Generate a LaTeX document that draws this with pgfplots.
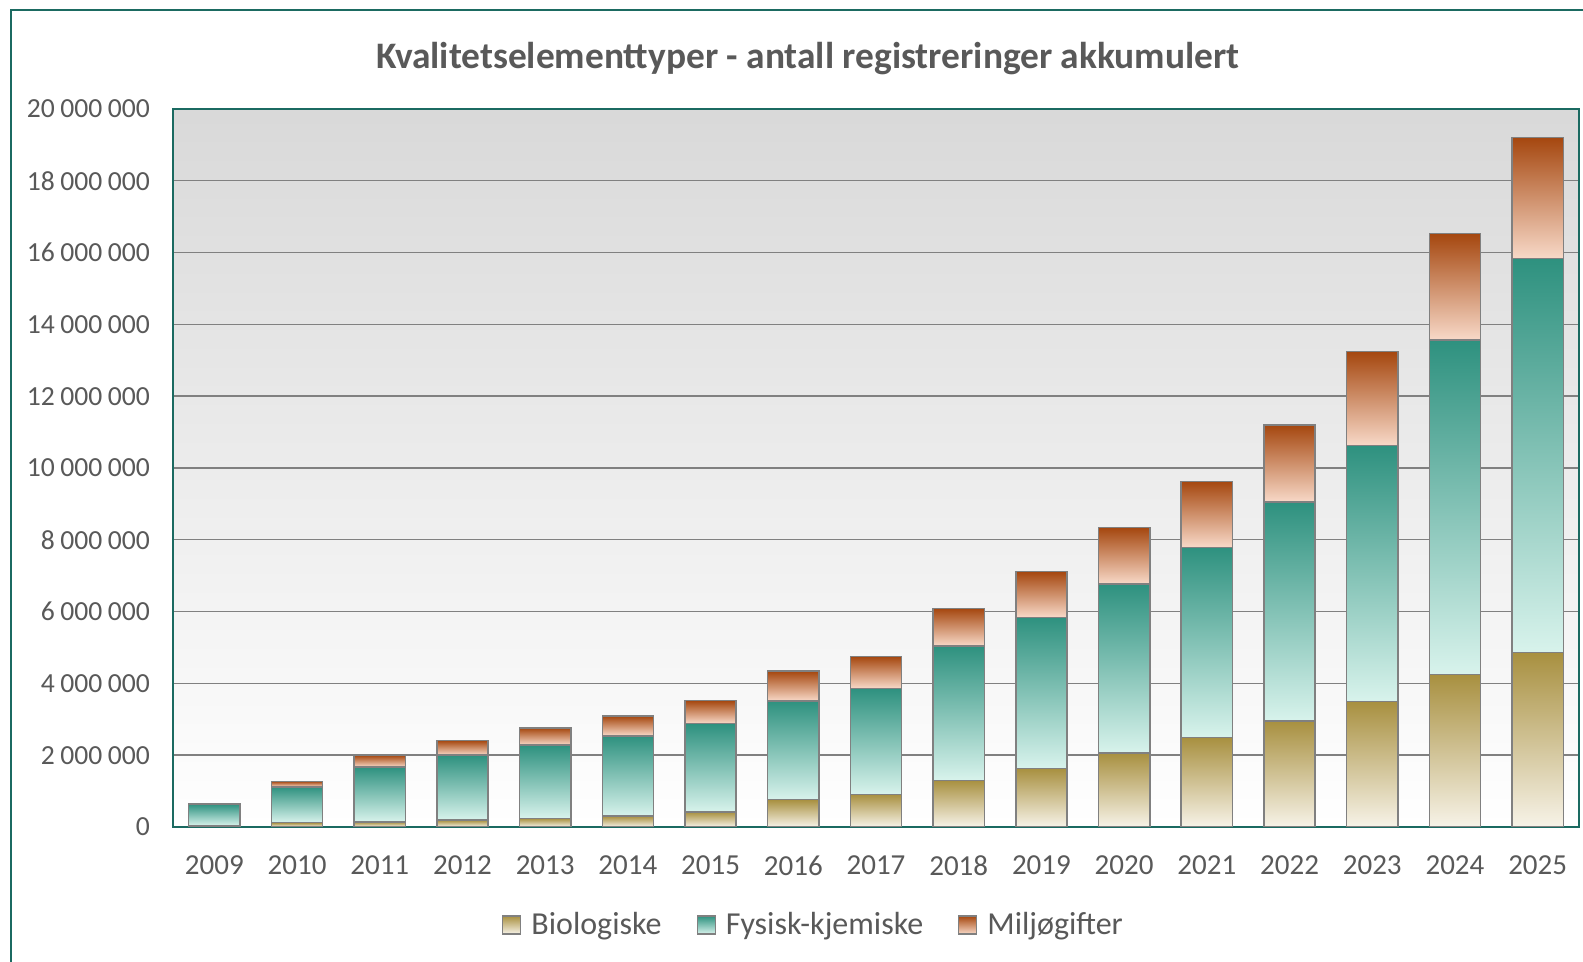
\documentclass[border=0pt]{standalone}
\usepackage{pgfplots}
\pgfplotsset{compat=1.18}
\usepackage{fontspec}
\setmainfont{Carlito}
\definecolor{frame}{HTML}{1B6A61}
\definecolor{txt}{HTML}{595959}
\definecolor{gridc}{HTML}{808080}
\definecolor{bioT}{HTML}{A89040}
\definecolor{bioB}{HTML}{F7F3E8}
\definecolor{fysT}{HTML}{2E917F}
\definecolor{fysB}{HTML}{D8F3EC}
\definecolor{milT}{HTML}{A5470F}
\definecolor{milB}{HTML}{F8D9C8}
\pgfplotsset{
  biostyle/.style={top color=bioT, bottom color=bioB, draw=gridc, line width=0.75pt},
  fysstyle/.style={top color=fysT, bottom color=fysB, draw=gridc, line width=0.75pt},
  milstyle/.style={top color=milT, bottom color=milB, draw=gridc, line width=0.75pt},
}
% one year: x, Biologiske, Fysisk-kjemiske, Miljøgifter (millions)
\newcommand\yearbar[4]{%
  \addplot[biostyle, forget plot] coordinates {(#1,#2)};
  \addplot[fysstyle, forget plot] coordinates {(#1,#3)};
  \addplot[milstyle, forget plot] coordinates {(#1,#4)};
  \pgfmathsetmacro\negtot{-(#2+#3+#4)}%
  \edef\tmp{\noexpand\addplot[draw=none, fill=none, forget plot] coordinates {(#1,\negtot)};}\tmp
}
\def\sp{\hspace{0.2em}}
\begin{document}
\begin{tikzpicture}
\useasboundingbox (0,0) rectangle (791.5pt,481pt);
\fill[white] (0,0) rectangle (791.5pt,481pt);
\draw[frame, line width=1pt] (5.5pt,-10pt) -- (5.5pt,476pt) -- (810pt,476pt);
\begin{axis}[
  at={(86.5pt,67.5pt)}, anchor=south west,
  scale only axis, width=703pt, height=359pt,
  ybar stacked, stack negative=on previous, bar width=0.62,
  xmin=-0.5, xmax=16.5, ymin=0, ymax=20,
  xtick={0,...,16},
  xticklabels={2009,2010,2011,2012,2013,2014,2015,2016,2017,2018,2019,2020,2021,2022,2023,2024,2025},
  ytick={0,2,4,6,8,10,12,14,16,18,20},
  yticklabels={0,2\sp000\sp000,4\sp000\sp000,6\sp000\sp000,8\sp000\sp000,10\sp000\sp000,12\sp000\sp000,14\sp000\sp000,16\sp000\sp000,18\sp000\sp000,20\sp000\sp000},
  major tick length=0pt,
  xticklabel style={font=\fontsize{14.5pt}{17pt}\selectfont, color=txt},
  yticklabel style={font=\fontsize{13.8pt}{16pt}\selectfont, color=txt},
  xticklabel shift=11pt, yticklabel shift=8pt,
  ymajorgrids, major grid style={draw=gridc, line width=0.7pt},
  axis line style={draw=frame, line width=0.8pt},
  axis background/.style={top color=black!15, bottom color=white},
  title={Kvalitetselementtyper - antall registreringer akkumulert},
  title style={at={(0.4516,1.053)}, anchor=center, font=\bfseries\fontsize{18.7pt}{22pt}\selectfont, color=txt},
  legend columns=3,
  legend style={at={(0.4563,-0.1365)}, anchor=center, draw=none, fill=none,
    font=\fontsize{16pt}{19pt}\selectfont, text=txt,
    /tikz/every odd column/.append style={column sep=3pt},
    /tikz/every even column/.append style={column sep=15.5pt}},
  legend image code/.code={\draw[#1, draw=gridc, line width=0.6pt] (0pt,-4.5pt) rectangle (9pt,4.5pt);},
]
\yearbar{0}{0.03}{0.61}{0.01}
\yearbar{1}{0.12}{1.00}{0.15}
\yearbar{2}{0.14}{1.53}{0.33}
\yearbar{3}{0.19}{1.81}{0.41}
\yearbar{4}{0.24}{2.04}{0.48}
\yearbar{5}{0.30}{2.24}{0.55}
\yearbar{6}{0.42}{2.46}{0.64}
\yearbar{7}{0.76}{2.75}{0.83}
\yearbar{8}{0.91}{2.95}{0.89}
\yearbar{9}{1.30}{3.74}{1.05}
\yearbar{10}{1.63}{4.21}{1.27}
\yearbar{11}{2.06}{4.71}{1.57}
\yearbar{12}{2.49}{5.30}{1.84}
\yearbar{13}{2.95}{6.10}{2.15}
\yearbar{14}{3.49}{7.13}{2.62}
\yearbar{15}{4.25}{9.32}{2.96}
\yearbar{16}{4.86}{10.97}{3.38}
\addlegendimage{biostyle}
\addlegendimage{fysstyle}
\addlegendimage{milstyle}
\legend{Biologiske,Fysisk-kjemiske,Miljøgifter}
\end{axis}
\end{tikzpicture}
\end{document}
